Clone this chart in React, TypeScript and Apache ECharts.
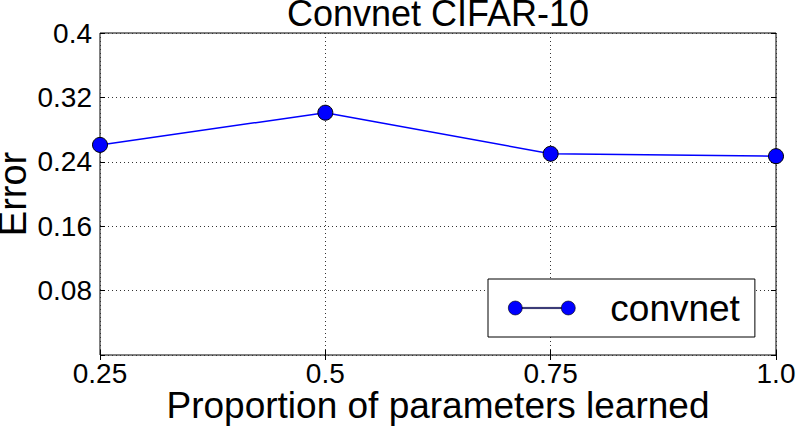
import React, { useEffect, useRef } from "react";
import * as echarts from "echarts";

const proportions = [0.25, 0.5, 0.75, 1.0];
const errors = [0.261, 0.301, 0.25, 0.247];
const seriesName = "convnet";
const titleText = "Convnet CIFAR-10";
const xName = "Proportion of parameters learned";
const yName = "Error";

const FONT = "Liberation Sans, Arial, Helvetica, sans-serif";

export default function App() {
  const ref = useRef<HTMLDivElement>(null);
  useEffect(() => {
    if (!ref.current) return;
    const chart = echarts.init(ref.current, null, { renderer: "svg" });
    const fmtY = (v: number) => (Math.abs(v) < 1e-9 ? "" : String(parseFloat(v.toFixed(2))));
    const fmtX = (v: number) => (Math.abs(v - 1) < 1e-9 ? "1.0" : String(parseFloat(v.toFixed(2))));
    const dotted = { color: "#333", width: 1, type: [1, 3] as any };
    chart.setOption({
      animation: false,
      backgroundColor: "#fff",
      textStyle: { fontFamily: FONT },
      title: {
        text: titleText,
        left: 438,
        top: 1,
        padding: 0,
        textAlign: "center",
        textStyle: { fontFamily: FONT, fontSize: 36, fontWeight: "normal", color: "#000", lineHeight: 25 },
      },
      grid: {
        left: 100,
        top: 33,
        width: 676,
        height: 322,
        containLabel: false,
        outerBoundsMode: "none",
        show: true,
        borderColor: "#000",
        borderWidth: 1,
        backgroundColor: "#fff",
      },
      legend: {
        data: [seriesName],
        left: 488,
        top: 279,
        orient: "horizontal",
        padding: [9, 15, 9, 20],
        borderColor: "#000",
        borderWidth: 1,
        backgroundColor: "#fff",
        itemWidth: 67,
        itemHeight: 14,
        icon: "path://M0,7a7,7 0 1,0 14,0a7,7 0 1,0 -14,0ZM14,6.4H53V7.6H14ZM53,7a7,7 0 1,0 14,0a7,7 0 1,0 -14,0Z",
        itemStyle: { color: "#0000ff", borderColor: "#000", borderWidth: 0.6 },
        textStyle: { fontFamily: FONT, fontSize: 37, color: "#000", lineHeight: 40, padding: [0, 0, 0, 30] },
        selectedMode: false,
      },
      xAxis: [
        {
          type: "value",
          min: 0.25,
          max: 1.0,
          interval: 0.25,
          name: xName,
          nameLocation: "middle",
          nameGap: 37,
          nameMoveOverlap: false,
          nameTextStyle: { fontFamily: FONT, fontSize: 37, color: "#000", lineHeight: 26, verticalAlign: "top" },
          axisLine: { show: false },
          axisTick: { show: true, inside: true, length: 5, lineStyle: { color: "#000" } },
          axisLabel: { fontFamily: FONT, fontSize: 28, color: "#000", margin: 6, lineHeight: 24, formatter: fmtX },
          splitLine: { show: true, lineStyle: dotted },
        },
        {
          type: "value",
          position: "top",
          min: 0.25,
          max: 1.0,
          interval: 0.25,
          axisLine: { show: false },
          axisTick: { show: true, inside: true, length: 5, lineStyle: { color: "#000" } },
          axisLabel: { show: false },
          splitLine: { show: false },
        },
      ],
      yAxis: [
        {
          type: "value",
          min: 0,
          max: 0.4,
          interval: 0.08,
          name: yName,
          nameLocation: "middle",
          nameGap: 72,
          nameMoveOverlap: false,
          nameTextStyle: { fontFamily: FONT, fontSize: 38, color: "#000", lineHeight: 30 },
          axisLine: { show: false },
          axisTick: { show: true, inside: true, length: 5, lineStyle: { color: "#000" } },
          axisLabel: { fontFamily: FONT, fontSize: 28, color: "#000", margin: 8, formatter: fmtY },
          splitLine: { show: true, lineStyle: dotted },
        },
        {
          type: "value",
          position: "right",
          min: 0,
          max: 0.4,
          interval: 0.08,
          axisLine: { show: false },
          axisTick: { show: true, inside: true, length: 5, lineStyle: { color: "#000" } },
          axisLabel: { show: false },
          splitLine: { show: false },
        },
      ],
      series: [
        {
          name: seriesName,
          type: "line",
          xAxisIndex: 0,
          yAxisIndex: 0,
          data: proportions.map((p, i) => [p, errors[i]]),
          symbol: "circle",
          symbolSize: 15,
          clip: false,
          lineStyle: { color: "#0000ff", width: 1.5 },
          itemStyle: { color: "#0000ff", borderColor: "#000", borderWidth: 1 },
        },
      ],
    });
    return () => chart.dispose();
  }, []);
  return (
    <div
      ref={ref}
      style={{ position: "fixed", left: 0, top: 0, width: 797, height: 427 }}
    />
  );
}
